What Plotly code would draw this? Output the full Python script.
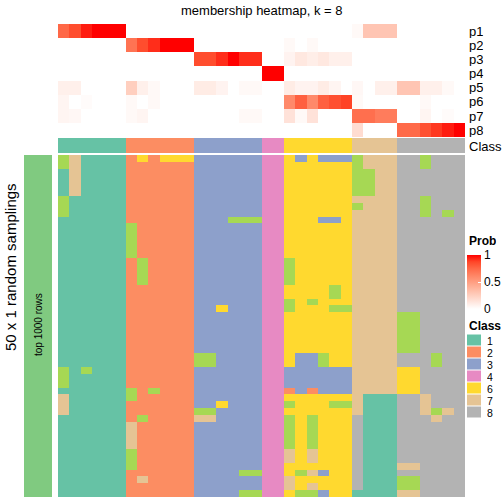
import plotly.graph_objects as go

W, H = 504, 504

# ---------------- data ----------------
prob_rows = ["p1", "p2", "p3", "p4", "p5", "p6", "p7", "p8"]
col_class = [1]*6 + [2]*6 + [3]*6 + [4]*2 + [6]*6 + [7]*4 + [8]*6

p1 = [0.75, 0.85, 0.95, 1, 1, 1,  0, 0, 0, 0, 0, 0,  0, 0, 0, 0, 0, 0,  0, 0,
      0, 0, 0, 0, 0, 0,  0.03, 0.3, 0.3, 0.3,  0, 0, 0, 0, 0, 0]
p2 = [0, 0, 0, 0, 0, 0,  0.7, 0.85, 0.92, 1, 1, 1,  0, 0, 0, 0, 0, 0,  0, 0,
      0.03, 0, 0.03, 0, 0, 0,  0, 0, 0, 0,  0, 0, 0, 0, 0, 0]
p3 = [0, 0, 0, 0, 0, 0,  0, 0, 0, 0, 0, 0,  0.85, 0.85, 0.92, 1, 0.92, 0.92,  0, 0,
      0.06, 0.12, 0.09, 0.12, 0.08, 0.08,  0, 0, 0, 0,  0, 0, 0, 0, 0, 0]
p4 = [0, 0, 0, 0, 0, 0,  0, 0, 0, 0, 0, 0,  0, 0, 0, 0, 0, 0,  1, 1,
      0, 0, 0, 0, 0, 0,  0, 0, 0, 0,  0, 0, 0, 0, 0, 0]
p5 = [0.08, 0.08, 0, 0, 0, 0,  0.25, 0.08, 0.03, 0, 0, 0,  0.1, 0.1, 0.06, 0, 0.03, 0.03,  0, 0,
      0.1, 0.06, 0.06, 0.1, 0.05, 0,  0.04, 0, 0.08, 0.08,  0.3, 0.3, 0.08, 0.08, 0.03, 0]
p6 = [0.05, 0, 0.02, 0, 0, 0,  0.03, 0, 0.03, 0, 0, 0,  0, 0, 0, 0, 0, 0,  0, 0,
      0.6, 0.78, 0.6, 0.78, 0.84, 0.88,  0.03, 0, 0, 0,  0, 0, 0.03, 0, 0, 0]
p7 = [0.05, 0.04, 0, 0, 0, 0,  0.03, 0.05, 0, 0, 0, 0,  0, 0, 0, 0, 0.03, 0.03,  0, 0,
      0.15, 0.03, 0.15, 0, 0, 0,  0.72, 0.72, 0.66, 0.66,  0, 0, 0.05, 0, 0.02, 0]
p8 = [0, 0, 0, 0, 0, 0,  0, 0, 0, 0, 0, 0,  0, 0, 0, 0, 0, 0,  0, 0,
      0, 0, 0, 0, 0, 0,  0.18, 0, 0, 0,  0.74, 0.74, 0.84, 0.9, 0.95, 1]
prob = [p1, p2, p3, p4, p5, p6, p7, p8]

# 50 random samplings x 36 samples, class labels
samplings = [
    "571111 262666 333333 44 636333 5777 885888",
    "571111 222222 333333 44 666666 5777 885888",
    "171111 222222 333333 44 666666 5577 888888",
    "171111 222222 333333 44 666666 5577 888888",
    "171111 222222 333333 44 666666 5577 888888",
    "171111 222222 333333 44 666666 5577 888888",
    "511111 222222 333333 44 666666 7777 885888",
    "511111 222222 333333 44 666666 5777 885888",
    "511111 222222 333333 44 666666 7777 885858",
    "111111 222222 333555 44 666336 7777 888888",
    "111111 522222 333333 44 666666 7777 888888",
    "111111 522222 333333 44 666666 7777 888888",
    "111111 522222 333333 44 666666 7777 888888",
    "111111 522222 333333 44 666666 7777 888888",
    "111111 522222 333333 44 666666 7777 888888",
    "111111 252222 333333 44 566666 7777 888888",
    "111111 252222 333333 44 566666 7777 888888",
    "111111 252222 333333 44 566666 7777 888888",
    "111111 252222 333333 44 566666 7777 888888",
    "111111 222222 333333 44 666656 7777 888888",
    "111111 222222 333333 44 666656 7777 888888",
    "111111 222222 333333 44 565666 7777 888888",
    "111111 222222 336333 44 566655 7777 888888",
    "111111 222222 333333 44 666666 7777 558888",
    "111111 222222 333333 44 666666 7777 558888",
    "111111 222222 333333 44 666666 7777 558888",
    "111111 222222 333333 44 666666 7777 558888",
    "111111 222222 333333 44 666666 7777 558888",
    "111111 222222 333333 44 666666 7777 558888",
    "111111 222222 553333 44 633566 7777 888588",
    "111111 222222 553333 44 633566 7777 888588",
    "515111 222222 333333 44 333333 7777 668888",
    "511111 222222 333333 44 333333 7777 668888",
    "511111 222222 333333 44 333333 7777 668888",
    "111111 525222 333333 44 232333 7777 668888",
    "711111 522222 333333 44 666666 7111 887888",
    "711111 222222 336333 44 566655 7111 887888",
    "711111 222222 553333 44 666666 7111 887578",
    "111111 252222 773333 44 565666 8111 888788",
    "111111 722222 333333 44 565666 8111 888888",
    "111111 722222 333333 44 565666 8111 888888",
    "111111 722222 333333 44 565666 8111 888888",
    "111111 722222 333333 44 565666 8111 888888",
    "111111 522222 333333 44 767666 8111 888888",
    "111111 522222 333333 44 767666 8111 888888",
    "111111 522222 333333 44 666666 8111 778888",
    "111111 222222 333355 44 657366 8111 888888",
    "111111 272222 333333 44 766666 8111 558888",
    "111111 222222 333333 44 767666 8111 558888",
    "111111 222222 333355 44 655366 1111 778888",
]
legend_classes = ["1", "2", "3", "4", "6", "7", "8"]
class_colors = {1: "#66C2A5", 2: "#FC8D62", 3: "#8DA0CB", 4: "#E78AC3",
                5: "#A6D854", 6: "#FFD92F", 7: "#E5C494", 8: "#B3B3B3"}

# ---------------- build ----------------
samp = [[int(c) for c in s.replace(" ", "")] for s in samplings]
ncol = len(col_class)
cols = list(range(ncol))

def px_x(v):
    return v / W

def px_y(v):
    return 1 - v / H

prob_scale = [[0.0, "rgb(255,255,255)"], [0.125, "rgb(255,231,223)"], [0.25, "rgb(255,207,191)"],
              [0.375, "rgb(255,183,160)"], [0.5, "rgb(255,158,129)"], [0.625, "rgb(255,132,100)"],
              [0.75, "rgb(255,104,71)"], [0.875, "rgb(255,70,40)"], [1.0, "rgb(255,0,0)"]]

cls_scale = []
for i in range(8):
    c = class_colors[i + 1]
    cls_scale.append([i / 8, c])
    cls_scale.append([(i + 1) / 8, c])

fig = go.Figure()

fig.add_trace(go.Heatmap(
    z=prob, x=cols, y=list(range(len(prob_rows))), zmin=0, zmax=1,
    colorscale=prob_scale, xaxis="x", yaxis="y", hoverinfo="skip",
    colorbar=dict(x=px_x(467), xanchor="left", y=px_y(255), yanchor="top",
                  len=54 / H, lenmode="fraction", thickness=14, thicknessmode="pixels",
                  outlinewidth=0, xpad=0, ypad=0, tickvals=[0, 0.5, 1],
                  ticktext=["0", "0.5", "1"], ticks="inside", ticklen=3,
                  tickcolor="white", tickfont=dict(size=12, color="#000",
                                                   family="Liberation Sans, Arial"))))

fig.add_trace(go.Heatmap(
    z=[col_class], x=cols, y=[0], zmin=0.5, zmax=8.5, colorscale=cls_scale,
    showscale=False, xaxis="x2", yaxis="y2", hoverinfo="skip"))

fig.add_trace(go.Heatmap(
    z=samp, x=cols, y=list(range(len(samp))), zmin=0.5, zmax=8.5, colorscale=cls_scale,
    showscale=False, xaxis="x3", yaxis="y3", hoverinfo="skip"))

xd = [px_x(58), px_x(465)]
ax_off = dict(visible=False, showgrid=False, zeroline=False, fixedrange=True)
fig.update_layout(
    width=W, height=H, margin=dict(l=0, r=0, t=0, b=0),
    paper_bgcolor="white", plot_bgcolor="white", showlegend=False,
    font=dict(family="Liberation Sans, Arial", color="#000"),
    xaxis=dict(domain=xd, range=[-0.5, ncol - 0.5], **ax_off),
    xaxis2=dict(domain=xd, range=[-0.5, ncol - 0.5], anchor="y2", **ax_off),
    xaxis3=dict(domain=xd, range=[-0.5, ncol - 0.5], anchor="y3", **ax_off),
    yaxis=dict(domain=[px_y(137), px_y(24)], range=[7.5, -0.5], **ax_off),
    yaxis2=dict(domain=[px_y(153), px_y(138)], range=[-0.5, 0.5], anchor="x2", **ax_off),
    yaxis3=dict(domain=[px_y(497), px_y(155)], range=[len(samp) - 0.5, -0.5], anchor="x3", **ax_off),
)

shapes = [dict(type="rect", xref="paper", yref="paper", x0=px_x(24), x1=px_x(52),
               y0=px_y(497), y1=px_y(155), fillcolor="#80CA80", line=dict(width=0))]
ann = []
ann.append(dict(text="membership heatmap, k = 8", x=px_x(261.5), y=px_y(10), xref="paper",
                yref="paper", showarrow=False, font=dict(size=13), xanchor="center", yanchor="middle"))
for i, r in enumerate(prob_rows):
    ann.append(dict(text=r, x=px_x(467), y=px_y(24 + 14.1 * i + 7), xref="paper", yref="paper",
                    showarrow=False, font=dict(size=13), xanchor="left", yanchor="middle",
                    height=14))
ann.append(dict(text="Class", x=px_x(467), y=px_y(145.5), xref="paper", yref="paper",
                showarrow=False, font=dict(size=13), xanchor="left", yanchor="middle", height=14))
ann.append(dict(text="50 x 1 random samplings", x=px_x(10), y=px_y(267), xref="paper",
                yref="paper", showarrow=False, textangle=-90, font=dict(size=15),
                xanchor="center", yanchor="middle"))
ann.append(dict(text="top 1000 rows", x=px_x(38), y=px_y(325), xref="paper", yref="paper",
                showarrow=False, textangle=-90, font=dict(size=10),
                xanchor="center", yanchor="middle"))
ann.append(dict(text="<b>Prob</b>", x=px_x(467), y=px_y(240.5), xref="paper", yref="paper",
                showarrow=False, font=dict(size=12), xanchor="left", yanchor="middle", height=12))
ann.append(dict(text="<b>Class</b>", x=px_x(467), y=px_y(326), xref="paper", yref="paper",
                showarrow=False, font=dict(size=12), xanchor="left", yanchor="middle", height=12))
for i, c in enumerate(legend_classes):
    yc = 340 + 12 * i
    shapes.append(dict(type="rect", xref="paper", yref="paper", x0=px_x(467), x1=px_x(481),
                       y0=px_y(yc + 5.5), y1=px_y(yc - 5.5), fillcolor=class_colors[int(c)],
                       line=dict(width=0)))
    ann.append(dict(text=c, x=px_x(485), y=px_y(yc), xref="paper", yref="paper",
                    showarrow=False, font=dict(size=10.5), xanchor="left", yanchor="middle",
                    height=11))

fig.update_layout(shapes=shapes, annotations=ann)
fig.write_html("out.html", config={"displayModeBar": False},
               post_script="document.body.style.margin='0px';document.body.style.overflow='hidden';")
